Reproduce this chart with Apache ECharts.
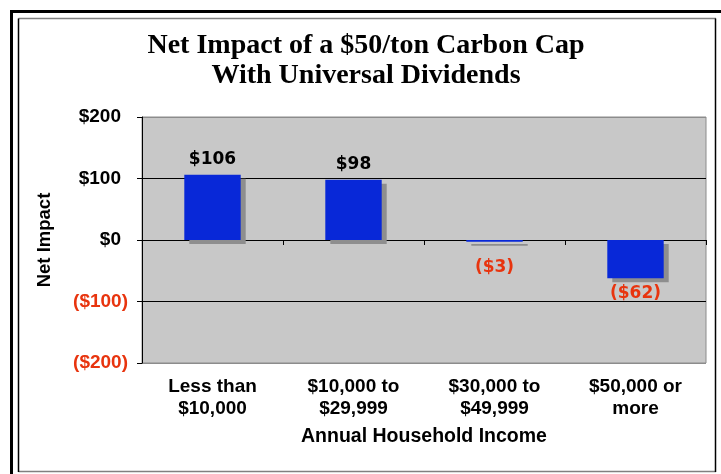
<!DOCTYPE html>
<html>
<head>
<meta charset="utf-8">
<script src="https://cdn.jsdelivr.net/npm/echarts@6/dist/echarts.min.js"></script>
<style>
  html, body {margin: 0; padding: 0; background: #fff;}
  #chart {width: 721px; height: 474px;}
</style>
</head>
<body>
<div id="chart"></div>
<script>
// income groups and net impact in dollars
const categories = ['Less than\n$10,000', '$10,000 to\n$29,999', '$30,000 to\n$49,999', '$50,000 or\nmore'];
const netImpact = [106, 98, -3, -62];
const yTicks = [-200, -100, 0, 100, 200];

const RED = '#E8340E';

const money = (v) => v < 0 ? '($' + (-v) + ')' : '$' + v;

let chart = echarts.init(document.getElementById('chart'));

let barData = netImpact.map((v) => ({
  value: v,
  label: v < 0 ? {position: 'bottom', distance: v > -10 ? 17 : 7, color: RED} : {position: 'top', distance: 7, color: '#000'}
}));

let option = {
  backgroundColor: '#fff',
  animation: false,
  title: {
    text: 'Net Impact of a $50/ton Carbon Cap\nWith Universal Dividends',
    left: 361,
    textAlign: 'center',
    top: 26,
    textStyle: {
      fontFamily: 'Liberation Serif',
      fontWeight: 'bold',
      fontSize: 28,
      lineHeight: 30,
      color: '#000'
    }
  },
  graphic: [
    // frame like the pasted slide object
    {type: 'line', shape: {x1: 10, y1: 11.5, x2: 721, y2: 11.5}, style: {stroke: '#000', lineWidth: 3}},
    {type: 'line', shape: {x1: 11.5, y1: 10, x2: 11.5, y2: 474}, style: {stroke: '#000', lineWidth: 3}},
    {type: 'line', shape: {x1: 18.5, y1: 18.5, x2: 716, y2: 18.5}, style: {stroke: '#808080', lineWidth: 1.5}},
    {type: 'line', shape: {x1: 18.5, y1: 471.5, x2: 716, y2: 471.5}, style: {stroke: '#808080', lineWidth: 1.5}},
    {type: 'line', shape: {x1: 18.5, y1: 18.5, x2: 18.5, y2: 472}, style: {stroke: '#000', lineWidth: 1.5}},
    {type: 'line', shape: {x1: 715.5, y1: 18.5, x2: 715.5, y2: 472}, style: {stroke: '#000', lineWidth: 1.5}}
  ],
  grid: {
    left: 142,
    right: 15,
    top: 117,
    bottom: 111,
    show: true,
    backgroundColor: '#C8C8C8',
    borderColor: '#8C8C8C',
    borderWidth: 1
  },
  xAxis: [{
    type: 'category',
    data: categories,
    position: 'bottom',
    axisLine: {onZero: true, lineStyle: {color: '#000', width: 1}},
    axisTick: {show: true, alignWithLabel: false, length: 5, lineStyle: {color: '#000'}},
    axisLabel: {show: false}
  }, {
    type: 'category',
    data: categories,
    position: 'bottom',
    axisLine: {show: false, onZero: false},
    axisTick: {show: false},
    axisLabel: {
      margin: 13,
      fontFamily: 'Liberation Sans',
      fontWeight: 'bold',
      fontSize: 19,
      lineHeight: 22,
      color: '#000'
    },
    name: 'Annual Household Income',
    nameLocation: 'middle',
    nameGap: 64,
    nameTextStyle: {
      fontFamily: 'Liberation Sans',
      fontWeight: 'bold',
      fontSize: 19.5,
      color: '#000'
    }
  }],
  yAxis: {
    type: 'value',
    min: -200,
    max: 200,
    interval: 100,
    axisLine: {show: true, lineStyle: {color: '#000'}},
    axisTick: {show: true, length: 5, lineStyle: {color: '#000'}},
    axisLabel: {
      margin: 14,
      formatter: (v) => v < 0 ? '{neg|' + money(v) + '}' : '{pos|' + money(v) + '}',
      rich: {
        pos: {fontFamily: 'Liberation Sans', fontWeight: 'bold', fontSize: 19, color: '#000', padding: [0, 7, 0, 0]},
        neg: {fontFamily: 'Liberation Sans', fontWeight: 'bold', fontSize: 19, color: RED}
      }
    },
    splitLine: {
      show: true,
      lineStyle: {color: ['#8C8C8C', '#000', '#000', '#000', '#8C8C8C'], width: 1}
    },
    name: 'Net Impact',
    nameLocation: 'middle',
    nameRotate: 90,
    nameGap: 88,
    nameTextStyle: {
      fontFamily: 'Liberation Sans',
      fontWeight: 'bold',
      fontSize: 18.5,
      color: '#000'
    }
  },
  series: [{
    type: 'bar',
    data: barData,
    barWidth: '40%',
    itemStyle: {
      color: '#0828D8',
      shadowColor: '#8E8E8E',
      shadowOffsetX: 5,
      shadowOffsetY: 4,
      shadowBlur: 0
    },
    label: {
      show: true,
      formatter: (p) => money(p.value),
      fontFamily: 'DejaVu Sans',
      fontWeight: 'bold',
      fontSize: 17
    }
  }]
};

chart.setOption(option);
</script>
</body>
</html>
